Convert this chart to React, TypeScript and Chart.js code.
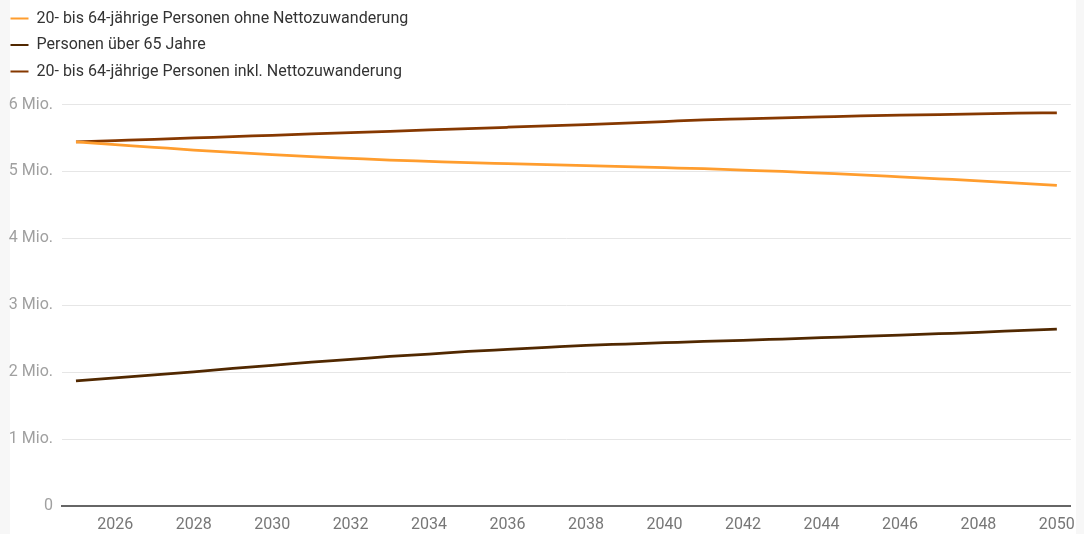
import React, { useEffect, useRef } from "react";
import { Chart, registerables } from "chart.js";

Chart.register(...registerables);

const years = [
  2025, 2026, 2027, 2028, 2029, 2030, 2031, 2032, 2033, 2034, 2035, 2036, 2037,
  2038, 2039, 2040, 2041, 2042, 2043, 2044, 2045, 2046, 2047, 2048, 2049, 2050,
];

const ohneNetto = [
  5.44, 5.40, 5.36, 5.32, 5.285, 5.25, 5.22, 5.195, 5.17, 5.15, 5.13, 5.115, 5.1,
  5.085, 5.07, 5.055, 5.04, 5.02, 5.0, 4.975, 4.95, 4.92, 4.89, 4.86, 4.825, 4.79,
];

const ueber65 = [
  1.87, 1.915, 1.96, 2.005, 2.055, 2.1, 2.15, 2.19, 2.235, 2.27, 2.31, 2.34, 2.37,
  2.4, 2.42, 2.44, 2.46, 2.475, 2.495, 2.515, 2.535, 2.555, 2.575, 2.595, 2.62, 2.645,
];

const inklNetto = [
  5.44, 5.46, 5.48, 5.5, 5.52, 5.54, 5.56, 5.58, 5.6, 5.62, 5.64, 5.66, 5.68,
  5.7, 5.72, 5.745, 5.77, 5.785, 5.8, 5.815, 5.83, 5.84, 5.85, 5.86, 5.87, 5.875,
];

const xTickYears = [2026, 2028, 2030, 2032, 2034, 2036, 2038, 2040, 2042, 2044, 2046, 2048, 2050];
const yTicks = [0, 1, 2, 3, 4, 5, 6];

const seriesLabels = [
  "20- bis 64-jährige Personen ohne Nettozuwanderung",
  "Personen über 65 Jahre",
  "20- bis 64-jährige Personen inkl. Nettozuwanderung",
];
const seriesColors = ["#ff9d2e", "#512800", "#863800"];

export default function App() {
  const canvasRef = useRef<HTMLCanvasElement | null>(null);

  useEffect(() => {
    document.body.style.margin = "0";
    const canvas = canvasRef.current;
    if (!canvas) return;
    const seriesValues = [ohneNetto, ueber65, inklNetto];
    const legendStack = {
      id: "legendStack",
      beforeInit(chart: any) {
        const lg = chart.legend;
        const origFit = lg.fit;
        lg.fit = function () {
          const saved = this.maxWidth;
          this.maxWidth = 460;
          origFit.call(this);
          this.maxWidth = saved;
          this.width = saved;
          this.height += 15;
        };
        const origDraw = lg.draw;
        lg.draw = function () {
          const savedRight = this.right;
          this.right = this.left + 460;
          origDraw.call(this);
          this.right = savedRight;
        };
      },
    };
    const chart = new Chart(canvas, {
      type: "line",
      data: {
        datasets: seriesValues.map((vals, i) => ({
          label: seriesLabels[i],
          data: years.map((y, j) => ({ x: y, y: vals[j] })),
          borderColor: seriesColors[i],
          backgroundColor: seriesColors[i],
          borderWidth: 2.75,
          pointRadius: 0,
          pointHoverRadius: 0,
          cubicInterpolationMode: "monotone" as const,
          fill: false,
        })),
      },
      options: {
        responsive: false,
        animation: false,
        devicePixelRatio: 1,
        layout: { padding: { left: 0, right: 12, top: 0, bottom: 0 } },
        plugins: {
          tooltip: { enabled: false },
          legend: {
            position: "top",
            align: "start",
            labels: {
              boxWidth: 18,
              boxHeight: 2,
              padding: 10.5,
              color: "#333333",
              font: { family: "Roboto", size: 16 },
              generateLabels(chart: any) {
                const items = Chart.defaults.plugins.legend.labels.generateLabels(chart);
                return items.map((it: any) => ({ ...it, lineWidth: 0 }));
              },
            },
          },
        },
        scales: {
          x: {
            type: "linear",
            min: 2024.644,
            max: 2050.356,
            afterBuildTicks(scale: any) {
              scale.ticks = xTickYears.map((v) => ({ value: v }));
            },
            afterFit(scale: any) {
              scale.height = 28;
            },
            grid: { display: false, drawTicks: false },
            border: { display: true, color: "#666666", width: 2 },
            ticks: {
              color: "#777777",
              font: { family: "Roboto", size: 16 },
              padding: 9,
              maxRotation: 0,
              autoSkip: false,
              callback: (v: any) => String(v),
            },
          },
          y: {
            min: 0,
            max: 6,
            afterBuildTicks(scale: any) {
              scale.ticks = yTicks.map((v) => ({ value: v }));
            },
            afterFit(scale: any) {
              scale.width = 62;
            },
            grid: { color: "#e6e6e6", lineWidth: 1, drawTicks: false },
            border: { display: false },
            ticks: {
              color: "#a0a0a0",
              font: { family: "Roboto", size: 16 },
              padding: 9,
              callback: (v: any) => (v === 0 ? "0" : `${v} Mio.`),
            },
          },
        },
      },
      plugins: [legendStack],
    });
    return () => chart.destroy();
  }, []);

  return (
    <div style={{ position: "relative", width: 1084, height: 534, background: "#f7f7f7", overflow: "hidden" }}>
      <div style={{ position: "absolute", left: 10, top: 0, width: 1066, height: 534, background: "#ffffff" }} />
      <canvas
        ref={canvasRef}
        width={1084}
        height={534}
        style={{ position: "absolute", left: 0, top: 0, width: 1084, height: 534 }}
      />
    </div>
  );
}
